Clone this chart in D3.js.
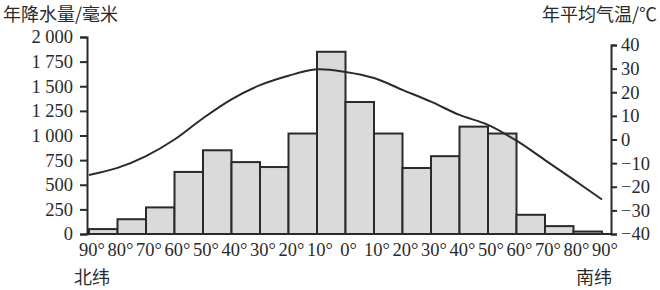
<!DOCTYPE html>
<html>
<head>
<meta charset="utf-8">
<script src="https://cdn.jsdelivr.net/npm/d3@7"></script>
<style>
  body { margin: 0; background: #fff; }
</style>
</head>
<body>
<div id="chart-area"></div>
<script>
// latitude edges, 90N -> 90S
const latLabels = ["90°","80°","70°","60°","50°","40°","30°","20°","10°","0°","10°","20°","30°","40°","50°","60°","70°","80°","90°"]
// annual precipitation per 10° band (mm)
const precip = [50, 150, 270, 630, 850, 730, 680, 1020, 1850, 1340, 1020, 670, 790, 1090, 1020, 195, 80, 25]
// annual mean temperature at each latitude edge (°C)
const temperature = [-15, -12, -7, 0, 9, 17, 23, 27, 29.7, 28.6, 26, 21, 16, 10.4, 6.2, -0.5, -8.7, -17, -25.4]
const precipTicks = [0, 250, 500, 750, 1000, 1250, 1500, 1750, 2000]
const tempTicks = [-40, -30, -20, -10, 0, 10, 20, 30, 40]

const WIDTH = 660
const HEIGHT = 290
const INK = "#2a2a2a"
const SERIF = '"Liberation Serif"'
const CJK = '"Noto Sans CJK SC"'

const svg = d3.select("#chart-area").append("svg")
  .attr("width", WIDTH)
  .attr("height", HEIGHT)

const x = d3.scaleLinear()
  .domain([0, latLabels.length - 1])
  .range([89, 602])
const yP = d3.scaleLinear()
  .domain([0, 2000])
  .range([234, 37])
const yT = d3.scaleLinear()
  .domain([-40, 40])
  .range([234, 45])

// bars
svg.append("g").selectAll("rect")
  .data(precip)
  .enter().append("rect")
  .attr("x", (d, i) => x(i))
  .attr("width", (d, i) => x(i + 1) - x(i))
  .attr("y", d => yP(d))
  .attr("height", d => yP(0) - yP(d))
  .attr("fill", "#dadada")
  .attr("stroke", INK)
  .attr("stroke-width", 2)

// temperature curve
const line = d3.line()
  .x((d, i) => x(i))
  .y(d => yT(d))
  .curve(d3.curveCatmullRom)

svg.append("path")
  .datum(temperature)
  .attr("d", line)
  .attr("fill", "none")
  .attr("stroke", INK)
  .attr("stroke-width", 2)

// left axis
const leftAxis = d3.axisLeft(yP)
  .tickValues(precipTicks)
  .tickSize(7)
  .tickPadding(7)
  .tickFormat(d => d3.format(",")(d).replace(",", " "))
const gl = svg.append("g")
  .attr("transform", "translate(87,0)")
  .call(leftAxis)

// right axis
const rightAxis = d3.axisRight(yT)
  .tickValues(tempTicks)
  .tickSize(6)
  .tickPadding(4)
const gr = svg.append("g")
  .attr("transform", "translate(611,0)")
  .call(rightAxis)

;[gl, gr].forEach(g => {
  g.select(".domain").attr("stroke", INK).attr("stroke-width", 2)
  g.selectAll(".tick line").attr("stroke", INK).attr("stroke-width", 2)
  g.selectAll(".tick text")
    .style("font-family", SERIF)
    .style("font-size", "18.5px")
    .attr("fill", INK)
})

// bottom axis line
svg.append("line")
  .attr("x1", 86).attr("x2", 612)
  .attr("y1", yP(0)).attr("y2", yP(0))
  .attr("stroke", INK)
  .attr("stroke-width", 2)

// latitude labels
svg.append("g").selectAll("text")
  .data(latLabels)
  .enter().append("text")
  .attr("x", (d, i) => x(i) + 3)
  .attr("y", 256)
  .attr("text-anchor", "middle")
  .attr("fill", INK)
  .style("font-family", SERIF)
  .style("font-size", "18.5px")
  .text(d => d)

// titles
const titles = [
  { text: "年降水量/毫米", x: 3, y: 21, anchor: "start" },
  { text: "年平均气温/℃", x: 657, y: 21, anchor: "end" },
  { text: "北纬", x: 74, y: 284, anchor: "start" },
  { text: "南纬", x: 612, y: 284, anchor: "end" }
]
svg.append("g").selectAll("text")
  .data(titles)
  .enter().append("text")
  .attr("x", d => d.x)
  .attr("y", d => d.y)
  .attr("text-anchor", d => d.anchor)
  .attr("fill", INK)
  .style("font-family", CJK)
  .style("font-size", "18px")
  .text(d => d.text)
</script>
</body>
</html>
